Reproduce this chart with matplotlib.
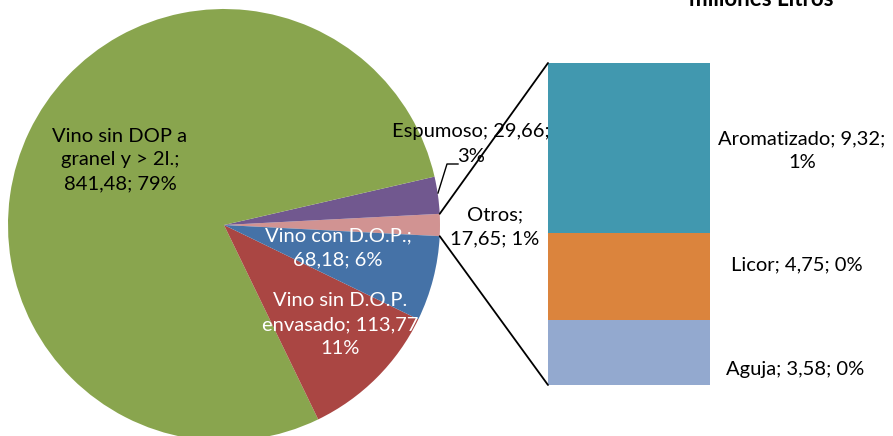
import matplotlib
matplotlib.use('Agg')
import matplotlib.pyplot as plt
from matplotlib.patches import ConnectionPatch
import numpy as np

plt.rcParams['font.family'] = ['Lato', 'DejaVu Sans']

# data (millones de litros)
pie_labels = ['Otros', 'Espumoso', 'Vino sin DOP a granel y > 2l.',
              'Vino sin D.O.P. envasado', 'Vino con D.O.P.']
pie_values = [17.65, 29.66, 841.48, 113.77, 68.18]
pie_pcts = ['1%', '3%', '79%', '11%', '6%']
pie_colors = ['#D19392', '#71588F', '#89A54E', '#AA4643', '#4572A7']

bar_labels = ['Aguja', 'Licor', 'Aromatizado']
bar_values = [3.58, 4.75, 9.32]
bar_pcts = ['0%', '0%', '1%']
bar_colors = ['#93A9CF', '#DB843D', '#4198AF']

W, H = 893, 436
fig = plt.figure(figsize=(W / 100, H / 100), dpi=100)
ax = fig.add_axes([0, 0, 1, 1])

# pie, "Otros" slice centred on the right-hand side
cx, cy, r = 224, H - 225, 216
start = -pie_values[0] / sum(pie_values) * 360 / 2
wedges, _ = ax.pie(pie_values, colors=pie_colors, startangle=start,
                   center=(cx, cy), radius=r, frame=True, counterclock=True,
                   wedgeprops=dict(linewidth=0))
ax.set_xlim(0, W)
ax.set_ylim(0, H)
ax.set_aspect('equal')
ax.axis('off')

fs = 14.5
ls = 1.5
def fmt(v):
    return ('%.2f' % v).replace('.', ',')

ax.text(120, H - 160, 'Vino sin DOP a\ngranel y > 2l.;\n%s; %s' % (fmt(pie_values[2]), pie_pcts[2]),
        ha='center', va='center', fontsize=fs, linespacing=ls)
ax.text(338, H - 248, 'Vino con D.O.P.;\n%s; %s' % (fmt(pie_values[4]), pie_pcts[4]),
        ha='center', va='center', fontsize=fs, color='white', linespacing=ls)
ax.text(340, H - 325, 'Vino sin D.O.P.\nenvasado; %s\n%s' % (fmt(pie_values[3]), pie_pcts[3]),
        ha='center', va='center', fontsize=fs, color='white', linespacing=ls)
ax.text(471, H - 144, 'Espumoso; %s;\n%s' % (fmt(pie_values[1]), pie_pcts[1]),
        ha='center', va='center', fontsize=fs, linespacing=ls)
ax.text(495, H - 227, 'Otros;\n%s; %s' % (fmt(pie_values[0]), pie_pcts[0]),
        ha='center', va='center', fontsize=fs, linespacing=ls)

# leader line for Espumoso
ax.plot([438, 447, 458], [H - 193, H - 164, H - 164], color='black', lw=1)

# title (partly cut off at top, as in the original)
ax.text(761, H - 6, 'millones Litros', ha='center', va='baseline',
        fontsize=16, fontweight='bold')

# stacked bar of "Otros"
bx = fig.add_axes([548 / W, (H - 385) / H, 162 / W, 322 / H])
bottom = 0
for v, c in zip(bar_values, bar_colors):
    bx.bar(0, v, width=1, bottom=bottom, color=c, linewidth=0)
    bottom += v
bx.set_xlim(-0.5, 0.5)
bx.set_ylim(0, sum(bar_values))
bx.axis('off')

ax.text(802, H - 151, 'Aromatizado; %s;\n%s' % (fmt(bar_values[2]), bar_pcts[2]),
        ha='center', va='center', fontsize=fs, linespacing=ls)
ax.text(797, H - 265, 'Licor; %s; %s' % (fmt(bar_values[1]), bar_pcts[1]),
        ha='center', va='center', fontsize=fs)
ax.text(795, H - 370, 'Aguja; %s; %s' % (fmt(bar_values[0]), bar_pcts[0]),
        ha='center', va='center', fontsize=fs)

# connector lines from the "Otros" wedge to the bar
w = wedges[0]
for ang, yb in [(w.theta2, sum(bar_values)), (w.theta1, 0)]:
    px = cx + r * np.cos(np.radians(ang))
    py = cy + r * np.sin(np.radians(ang))
    con = ConnectionPatch(xyA=(px, py), coordsA=ax.transData,
                          xyB=(-0.5, yb), coordsB=bx.transData,
                          color='black', lw=1.3)
    fig.add_artist(con)

plt.savefig('out.png', dpi=100)
